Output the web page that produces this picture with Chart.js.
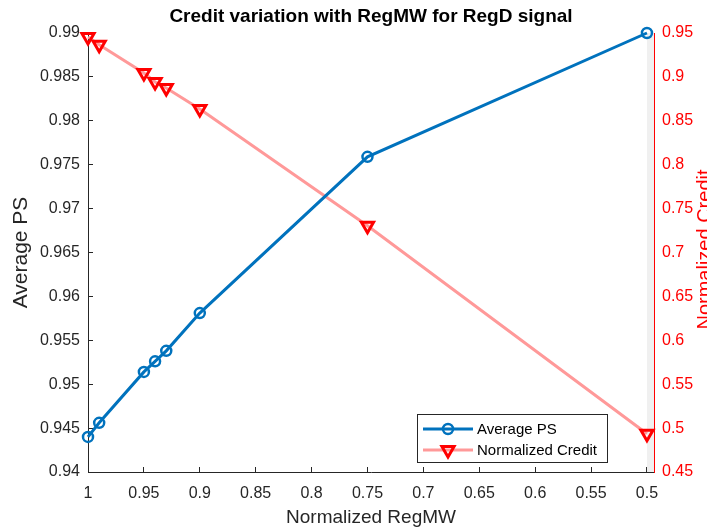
<!DOCTYPE html>
<html>
<head>
<meta charset="utf-8">
<script src="https://cdn.jsdelivr.net/npm/chart.js@4/dist/chart.umd.min.js"></script>
<style>
  html, body { margin: 0; padding: 0; background: #fff; }
  canvas { display: block; }
</style>
</head>
<body>
<canvas id="myChart" width="707" height="529"></canvas>
<script>
// data
const regMW = [1, 0.99, 0.95, 0.94, 0.93, 0.9, 0.75, 0.5];
const averagePS = [0.9440, 0.9456, 0.9514, 0.9526, 0.9538, 0.9581, 0.9759, 0.9900];
const normalizedCredit = [0.9454, 0.9365, 0.9044, 0.8942, 0.8874, 0.8634, 0.7305, 0.4935];
const xTicks = [1, 0.95, 0.9, 0.85, 0.8, 0.75, 0.7, 0.65, 0.6, 0.55, 0.5];
const leftTicks = [0.94, 0.945, 0.95, 0.955, 0.96, 0.965, 0.97, 0.975, 0.98, 0.985, 0.99];
const rightTicks = [0.45, 0.5, 0.55, 0.6, 0.65, 0.7, 0.75, 0.8, 0.85, 0.9, 0.95];

const FONT = '"Liberation Sans", Arial, Helvetica, sans-serif';
const AXIS_GRAY = '#262626';
const fmt = v => String(+Number(v).toFixed(4));

// light strip right of the last x tick, like the original figure
const stripPlugin = {
  id: 'strip',
  beforeDatasetsDraw(chart) {
    const { ctx, chartArea, scales } = chart;
    const x0 = scales.x.getPixelForValue(0.5);
    ctx.save();
    ctx.fillStyle = '#f0f0f0';
    ctx.fillRect(x0, chartArea.top, chartArea.right - x0, chartArea.bottom - chartArea.top);
    ctx.restore();
  }
};

// title centred over the axes, right axis title, legend box inside the plot
const extrasPlugin = {
  id: 'extras',
  afterDraw(chart) {
    const { ctx, chartArea } = chart;
    const midY = (chartArea.top + chartArea.bottom) / 2;
    ctx.save();
    ctx.font = 'bold 19px ' + FONT;
    ctx.fillStyle = '#000';
    ctx.textAlign = 'center';
    ctx.textBaseline = 'middle';
    ctx.fillText('Credit variation with RegMW for RegD signal', (chartArea.left + chartArea.right) / 2, 17);

    ctx.font = '20px ' + FONT;
    ctx.fillStyle = '#ff0000';
    ctx.translate(705, midY - 3);
    ctx.rotate(-Math.PI / 2);
    ctx.fillText('Normalized Credit', 0, 0);
    ctx.restore();

    const bx = 417, by = 414, bw = 190, bh = 48;
    ctx.save();
    ctx.fillStyle = '#fff';
    ctx.fillRect(bx, by, bw, bh);
    ctx.strokeStyle = AXIS_GRAY;
    ctx.lineWidth = 1;
    ctx.strokeRect(bx + 0.5, by + 0.5, bw, bh);
    chart.data.datasets.forEach((ds, i) => {
      const y = by + 15 + i * 21;
      ctx.strokeStyle = ds.borderColor;
      ctx.lineWidth = ds.borderWidth;
      ctx.beginPath();
      ctx.moveTo(bx + 6, y);
      ctx.lineTo(bx + 56, y);
      ctx.stroke();
      ctx.fillStyle = 'rgba(0,0,0,0)';
      ctx.strokeStyle = ds.pointBorderColor;
      ctx.lineWidth = ds.pointBorderWidth;
      Chart.helpers.drawPoint(ctx, {
        pointStyle: ds.pointStyle,
        radius: ds.pointRadius,
        rotation: ds.pointRotation || 0,
        borderWidth: ds.pointBorderWidth
      }, bx + 31, y);
      ctx.fillStyle = '#000';
      ctx.font = '15px ' + FONT;
      ctx.textAlign = 'left';
      ctx.textBaseline = 'middle';
      ctx.fillText(ds.label, bx + 60, y + 1);
    });
    ctx.restore();
  }
};

const ctx = document.getElementById('myChart').getContext('2d');
new Chart(ctx, {
  type: 'line',
  data: {
    datasets: [
      {
        label: 'Average PS',
        data: regMW.map((x, i) => ({ x, y: averagePS[i] })),
        yAxisID: 'y',
        borderColor: '#0072BD',
        borderWidth: 3,
        pointStyle: 'circle',
        pointRadius: 5,
        pointBorderWidth: 2.5,
        pointBorderColor: '#0072BD',
        pointBackgroundColor: 'rgba(0,0,0,0)',
        tension: 0,
        clip: false
      },
      {
        label: 'Normalized Credit',
        data: regMW.map((x, i) => ({ x, y: normalizedCredit[i] })),
        yAxisID: 'y1',
        borderColor: '#ff9999',
        borderWidth: 3,
        pointStyle: 'triangle',
        pointRotation: 180,
        pointRadius: 7,
        pointBorderWidth: 3,
        pointBorderColor: '#ff0000',
        pointBackgroundColor: 'rgba(0,0,0,0)',
        tension: 0,
        clip: false
      }
    ]
  },
  options: {
    responsive: false,
    animation: false,
    layout: { padding: { top: 33 } },
    plugins: {
      legend: { display: false },
      tooltip: { enabled: false },
      title: { display: false }
    },
    scales: {
      x: {
        type: 'linear',
        reverse: true,
        min: 0.4937,
        max: 1,
        afterBuildTicks: s => { s.ticks = xTicks.map(v => ({ value: v })); },
        afterFit: s => { s.height = 57; },
        border: { color: AXIS_GRAY, width: 1 },
        grid: { drawOnChartArea: false, tickLength: -5, color: AXIS_GRAY },
        ticks: {
          color: AXIS_GRAY, padding: 17, maxRotation: 0, autoSkip: false,
          font: { family: FONT, size: 16 }, callback: fmt
        },
        title: {
          display: true, text: 'Normalized RegMW', color: AXIS_GRAY,
          font: { family: FONT, size: 19 }, padding: { top: 0, bottom: 0 }
        }
      },
      y: {
        position: 'left',
        min: 0.94,
        max: 0.99,
        afterBuildTicks: s => { s.ticks = leftTicks.map(v => ({ value: v })); },
        afterFit: s => { s.width = 88; },
        border: { color: AXIS_GRAY, width: 1 },
        grid: { drawOnChartArea: false, tickLength: -5, color: AXIS_GRAY },
        ticks: {
          color: AXIS_GRAY, padding: 13, autoSkip: false,
          font: { family: FONT, size: 16 }, callback: fmt
        },
        title: {
          display: true, text: 'Average PS', color: AXIS_GRAY,
          font: { family: FONT, size: 21 }, padding: { top: 9, bottom: 0 }
        }
      },
      y1: {
        position: 'right',
        min: 0.45,
        max: 0.95,
        afterBuildTicks: s => { s.ticks = rightTicks.map(v => ({ value: v })); },
        afterFit: s => { s.width = 53; },
        border: { color: '#ff0000', width: 1 },
        grid: { drawOnChartArea: false, tickLength: -5, color: '#ff0000' },
        ticks: {
          color: '#ff0000', padding: 13, autoSkip: false,
          font: { family: FONT, size: 16 }, callback: fmt
        }
      }
    }
  },
  plugins: [stripPlugin, extrasPlugin]
});
</script>
</body>
</html>
